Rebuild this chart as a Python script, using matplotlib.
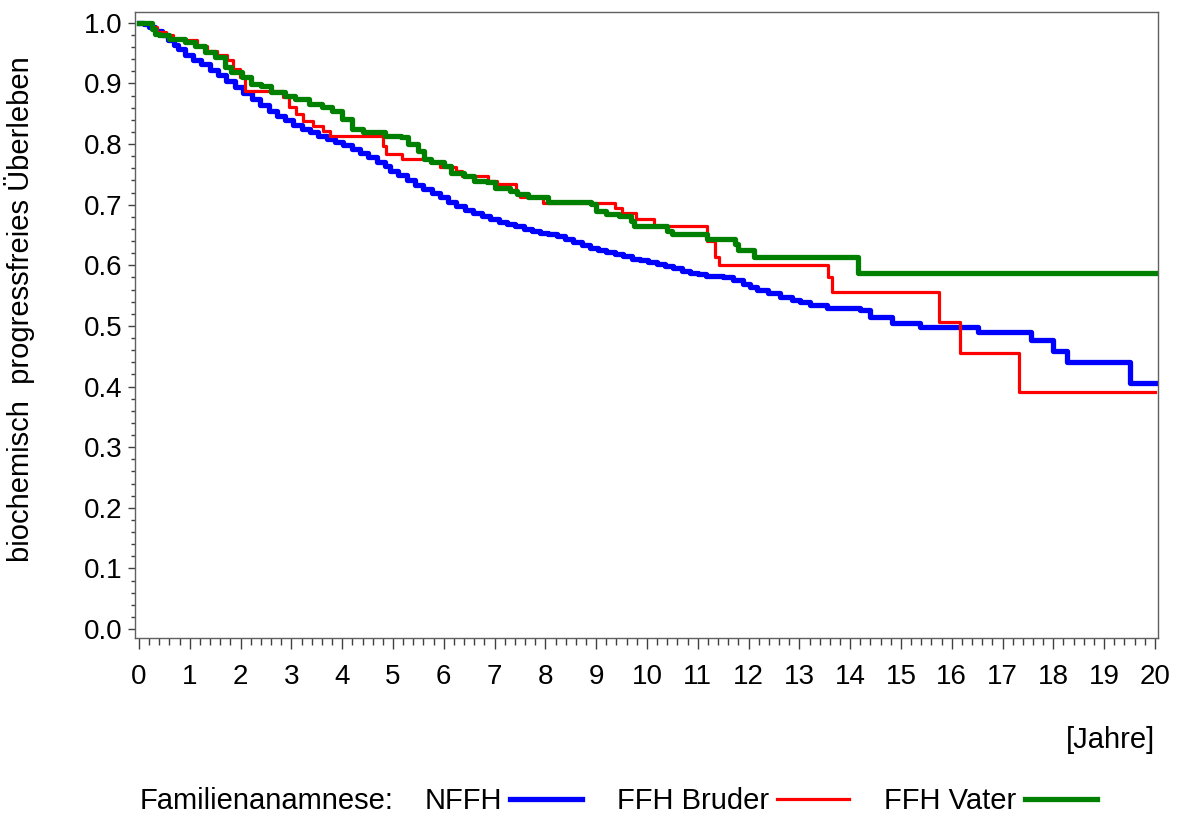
import matplotlib.pyplot as plt
from matplotlib.ticker import MultipleLocator

plt.rcParams['font.family'] = ['Liberation Sans', 'DejaVu Sans']

# Kaplan-Meier Schaetzungen, Zeit in Jahren
nffh_t = [0, 0.1, 0.2, 0.31, 0.45, 0.58, 0.68, 0.77, 0.91, 1.07, 1.23, 1.40, 1.56,
          1.72, 1.89, 2.05, 2.22, 2.38, 2.55, 2.71, 2.87, 3.03, 3.20, 3.37, 3.53,
          3.70, 3.86, 4.02, 4.19, 4.35, 4.51, 4.68, 4.84, 4.94, 5.10, 5.27, 5.43,
          5.60, 5.76, 5.92, 6.09, 6.25, 6.42, 6.58, 6.75, 6.91, 7.08, 7.24, 7.41,
          7.57, 7.73, 7.90, 8.06, 8.22, 8.39, 8.55, 8.72, 8.88, 9.04, 9.20, 9.37,
          9.53, 9.70, 9.86, 10.02, 10.19, 10.36, 10.52, 10.68, 10.85, 11.01, 11.17,
          11.34, 11.50, 11.70, 11.90, 12.03, 12.16, 12.39, 12.62, 12.85, 13.01, 13.2,
          13.54, 14.19, 14.40, 14.82, 15.37, 16.52, 17.57, 18.0, 18.26, 19.51, 20.04]
nffh_s = [1.0, 0.998, 0.993, 0.987, 0.979, 0.971, 0.964, 0.957, 0.946, 0.939, 0.932,
          0.922, 0.913, 0.904, 0.894, 0.884, 0.874, 0.865, 0.855, 0.847, 0.839, 0.832,
          0.825, 0.819, 0.814, 0.809, 0.803, 0.798, 0.792, 0.785, 0.778, 0.771, 0.764,
          0.756, 0.749, 0.741, 0.733, 0.726, 0.719, 0.712, 0.705, 0.698, 0.692, 0.687,
          0.681, 0.676, 0.672, 0.668, 0.664, 0.660, 0.657, 0.653, 0.651, 0.648, 0.643,
          0.638, 0.633, 0.629, 0.625, 0.622, 0.618, 0.615, 0.611, 0.608, 0.605, 0.602,
          0.598, 0.595, 0.591, 0.588, 0.585, 0.583, 0.582, 0.580, 0.575, 0.569, 0.565,
          0.560, 0.555, 0.547, 0.542, 0.539, 0.535, 0.530, 0.527, 0.514, 0.505, 0.499,
          0.490, 0.476, 0.458, 0.440, 0.406, 0.406]

bruder_t = [0, 0.25, 0.35, 0.54, 0.67, 0.87, 1.14, 1.33, 1.53, 1.73, 1.85, 1.99, 2.09,
            2.83, 2.95, 3.1, 3.23, 3.43, 3.62, 3.76, 4.80, 4.87, 5.17, 5.73, 5.93, 6.25,
            6.35, 6.88, 7.04, 7.43, 7.50, 7.96, 9.37, 9.50, 9.78, 10.14, 11.19, 11.34,
            11.42, 13.56, 13.64, 15.74, 16.16, 17.33, 20.0]
bruder_s = [1.0, 0.993, 0.985, 0.979, 0.974, 0.971, 0.962, 0.954, 0.946, 0.938, 0.924,
            0.911, 0.888, 0.877, 0.861, 0.850, 0.838, 0.830, 0.821, 0.814, 0.797, 0.783,
            0.776, 0.770, 0.762, 0.756, 0.748, 0.739, 0.734, 0.720, 0.712, 0.703, 0.695,
            0.687, 0.676, 0.665, 0.640, 0.613, 0.600, 0.580, 0.556, 0.506, 0.456, 0.391,
            0.391]

vater_t = [0, 0.25, 0.31, 0.40, 0.60, 0.90, 1.10, 1.30, 1.50, 1.70, 1.82, 2.02, 2.2,
           2.40, 2.6, 2.88, 3.08, 3.35, 3.6, 3.8, 4.0, 4.2, 4.4, 4.85, 5.15, 5.30, 5.5,
           5.62, 5.75, 6.0, 6.15, 6.4, 6.6, 6.85, 7.0, 7.3, 7.45, 7.65, 8.05, 8.9, 9.0,
           9.2, 9.45, 9.68, 9.74, 10.39, 10.5, 11.18, 11.73, 11.8, 12.1, 14.16, 20.0]
vater_s = [1.0, 0.990, 0.982, 0.979, 0.974, 0.968, 0.962, 0.951, 0.943, 0.927, 0.918,
           0.910, 0.899, 0.896, 0.885, 0.880, 0.874, 0.866, 0.861, 0.855, 0.841, 0.825,
           0.819, 0.814, 0.811, 0.800, 0.789, 0.775, 0.770, 0.764, 0.753, 0.748, 0.739,
           0.737, 0.728, 0.723, 0.717, 0.713, 0.704, 0.701, 0.690, 0.684, 0.682, 0.673,
           0.665, 0.657, 0.651, 0.644, 0.635, 0.625, 0.614, 0.587, 0.587]

x_ticks = list(range(0, 21))
y_ticks = [0.0, 0.1, 0.2, 0.3, 0.4, 0.5, 0.6, 0.7, 0.8, 0.9, 1.0]

fig = plt.figure(figsize=(11.78, 8.17), dpi=100)
ax = fig.add_axes([0.1146, 0.219, 0.8684, 0.7663])

l1, = ax.plot(nffh_t, nffh_s, drawstyle='steps-post', color='#0000ff', lw=3.8)
l2, = ax.plot(bruder_t, bruder_s, drawstyle='steps-post', color='#ff0000', lw=2.3)
l3, = ax.plot(vater_t, vater_s, drawstyle='steps-post', color='#008000', lw=3.8)

ax.set_xlim(-0.079, 20.06)
ax.set_ylim(-0.0148, 1.0177)
ax.set_xticks(x_ticks)
ax.set_yticks(y_ticks)
ax.set_yticklabels(['%.1f' % v for v in y_ticks])
ax.xaxis.set_minor_locator(MultipleLocator(0.2))
ax.yaxis.set_minor_locator(MultipleLocator(0.02))

for s in ax.spines.values():
    s.set_color('#606060')
    s.set_linewidth(1.0)
ax.tick_params(axis='x', which='major', length=8, width=1, color='#404040',
               labelsize=20, pad=11)
ax.tick_params(axis='x', which='minor', length=5, width=1, color='#404040')
ax.tick_params(axis='y', which='major', length=5, width=1, color='#404040',
               labelsize=20, pad=4)
ax.tick_params(axis='y', which='minor', length=3, width=1, color='#404040')

ax.set_ylabel('biochemisch  progressfreies Überleben', fontsize=21)
ax.yaxis.set_label_coords(-0.098, 0.525)

fig.text(1155 / 1178, 1 - 740 / 817, '[Jahre]', ha='right', va='center', fontsize=21)

fig.text(140 / 1178, 1 - 801 / 817, 'Familienanamnese:', ha='left', va='center',
         fontsize=21)
fig.legend([l1, l2, l3], ['NFFH', 'FFH Bruder', 'FFH Vater'], ncol=3,
           markerfirst=False, frameon=False, fontsize=21, handlelength=2.47,
           handletextpad=0.27, columnspacing=1.2, loc='center left',
           bbox_to_anchor=(425 / 1178, 1 - 801 / 817), borderaxespad=0,
           borderpad=0)

fig.savefig('out.png', dpi=100)
